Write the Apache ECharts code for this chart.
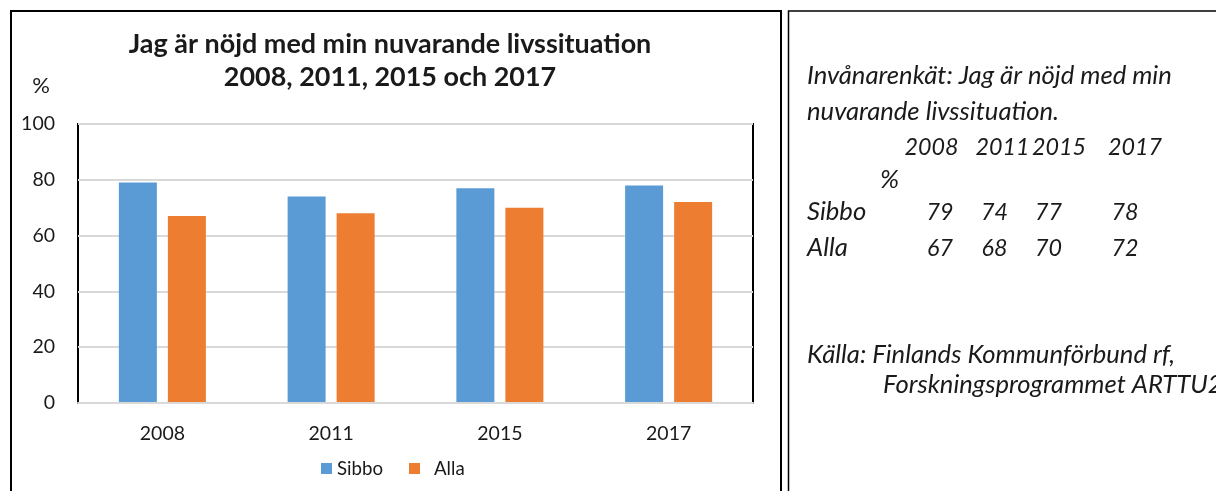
<!DOCTYPE html>
<html><head><meta charset="utf-8">
<script src="https://cdn.jsdelivr.net/npm/echarts@6/dist/echarts.min.js"></script>
<style>html,body{margin:0;padding:0;background:#fff}#c{width:1216px;height:491px}</style>
</head><body><div id="c"></div>
<script>
// ---- data ----
const categories = ['2008', '2011', '2015', '2017'];
const sibbo = [79, 74, 77, 78];
const alla = [67, 68, 70, 72];
const seriesNames = ['Sibbo', 'Alla'];
const yTicks = [0, 20, 40, 60, 80, 100];
const unit = '%';
const titleLines = ['Jag är nöjd med min nuvarande livssituation', '2008, 2011, 2015 och 2017'];
const noteLines = ['Invånarenkät: Jag är nöjd med min', 'nuvarande livssituation.'];
const sourceLines = ['Källa: Finlands Kommunförbund rf,', 'Forskningsprogrammet ARTTU2'];

// ---- font fitting helper ----
const FAM = 'Lato, "Open Sans", sans-serif';
const cv = document.createElement('canvas').getContext('2d');
function fit(text, weight, style, target) {
  cv.font = style + ' ' + weight + ' 100px ' + FAM;
  return 100 * target / cv.measureText(text).width;
}
const titleSize = fit(titleLines[0], 'bold', 'normal', 523);
const axisSize = 19.5;
const legendSize = fit('Sibbo', 'normal', 'normal', 46);
const noteSize = fit(noteLines[0], 'normal', 'italic', 365);
const digitSize = Math.min(noteSize, fit('2008', 'normal', 'italic', 54));

const TXT = '#1a1a1a';
const chart = echarts.init(document.getElementById('c'));

// panel frames and right-panel texts
const g = [];
g.push({type: 'rect', shape: {x: 11, y: 11, width: 770, height: 500}, style: {fill: 'none', stroke: '#000', lineWidth: 2}, silent: true});
g.push({type: 'rect', shape: {x: 788.5, y: 11, width: 500, height: 500}, style: {fill: 'none', stroke: '#000', lineWidth: 1.5}, silent: true});
function note(text, x, y, size, align) {
  g.push({type: 'text', x: x, y: y, silent: true,
    style: {text: text, fill: TXT, font: 'italic ' + (size || noteSize).toFixed(2) + 'px ' + FAM, textAlign: align || 'left', textVerticalAlign: 'middle'}});
}
note(noteLines[0], 807, 76);
note(noteLines[1], 807, 112);
const yearCx = [931.5, 1002.5, 1059, 1135];
const valCx = [940, 994.5, 1048.5, 1125];
categories.forEach((c, i) => note(c, yearCx[i], 147, digitSize, 'center'));
note(unit, 880, 180);
const rows = [sibbo, alla];
const rowY = [212, 248];
rows.forEach((r, k) => {
  note(seriesNames[k], 807, rowY[k]);
  r.forEach((v, i) => note(String(v), valCx[i], rowY[k], digitSize, 'center'));
});
note(sourceLines[0], 807, 355);
note(sourceLines[1], 883, 385);

chart.setOption({
  animation: false,
  backgroundColor: '#fff',
  title: {
    text: titleLines.join('\n'),
    left: 390, top: 28, textAlign: 'center', padding: 0,
    textStyle: {fontFamily: FAM, fontWeight: 'bold', fontSize: titleSize, lineHeight: 33, color: TXT}
  },
  legend: {
    data: [
      {name: seriesNames[0]},
      {name: seriesNames[1], textStyle: {padding: [10, 0, 0, 9]}}
    ],
    left: 321, top: 459, padding: 0,
    itemWidth: 11, itemHeight: 11, itemGap: 26,
    icon: 'rect',
    textStyle: {fontFamily: FAM, fontSize: legendSize, color: TXT}
  },
  grid: {
    left: 78, right: 1216 - 753, top: 124, height: 279,
    show: true, borderColor: '#000', borderWidth: 2, containLabel: false
  },
  xAxis: {
    type: 'category', data: categories,
    axisLine: {show: true, lineStyle: {color: '#d9d9d9', width: 2}},
    axisTick: {show: false},
    axisLabel: {fontFamily: FAM, fontSize: axisSize, color: TXT, margin: 21},
    z: 10
  },
  yAxis: {
    type: 'value', min: yTicks[0], max: yTicks[yTicks.length - 1], interval: yTicks[1] - yTicks[0],
    name: unit, nameLocation: 'end', nameGap: 38,
    nameTextStyle: {fontFamily: FAM, fontSize: 22, color: TXT, align: 'right', verticalAlign: 'middle', padding: [0, 28, 0, 0]},
    axisLine: {show: false},
    axisTick: {show: false},
    axisLabel: {fontFamily: FAM, fontSize: axisSize, color: TXT, margin: 23},
    splitLine: {show: true, lineStyle: {color: '#d9d9d9', width: 2}}
  },
  series: [
    {name: seriesNames[0], type: 'bar', data: sibbo, barWidth: 38, barGap: '29%', itemStyle: {color: '#5B9BD5'}},
    {name: seriesNames[1], type: 'bar', data: alla, barWidth: 38, barGap: '29%', itemStyle: {color: '#ED7D31'}}
  ],
  graphic: g
});
</script>
</body></html>
